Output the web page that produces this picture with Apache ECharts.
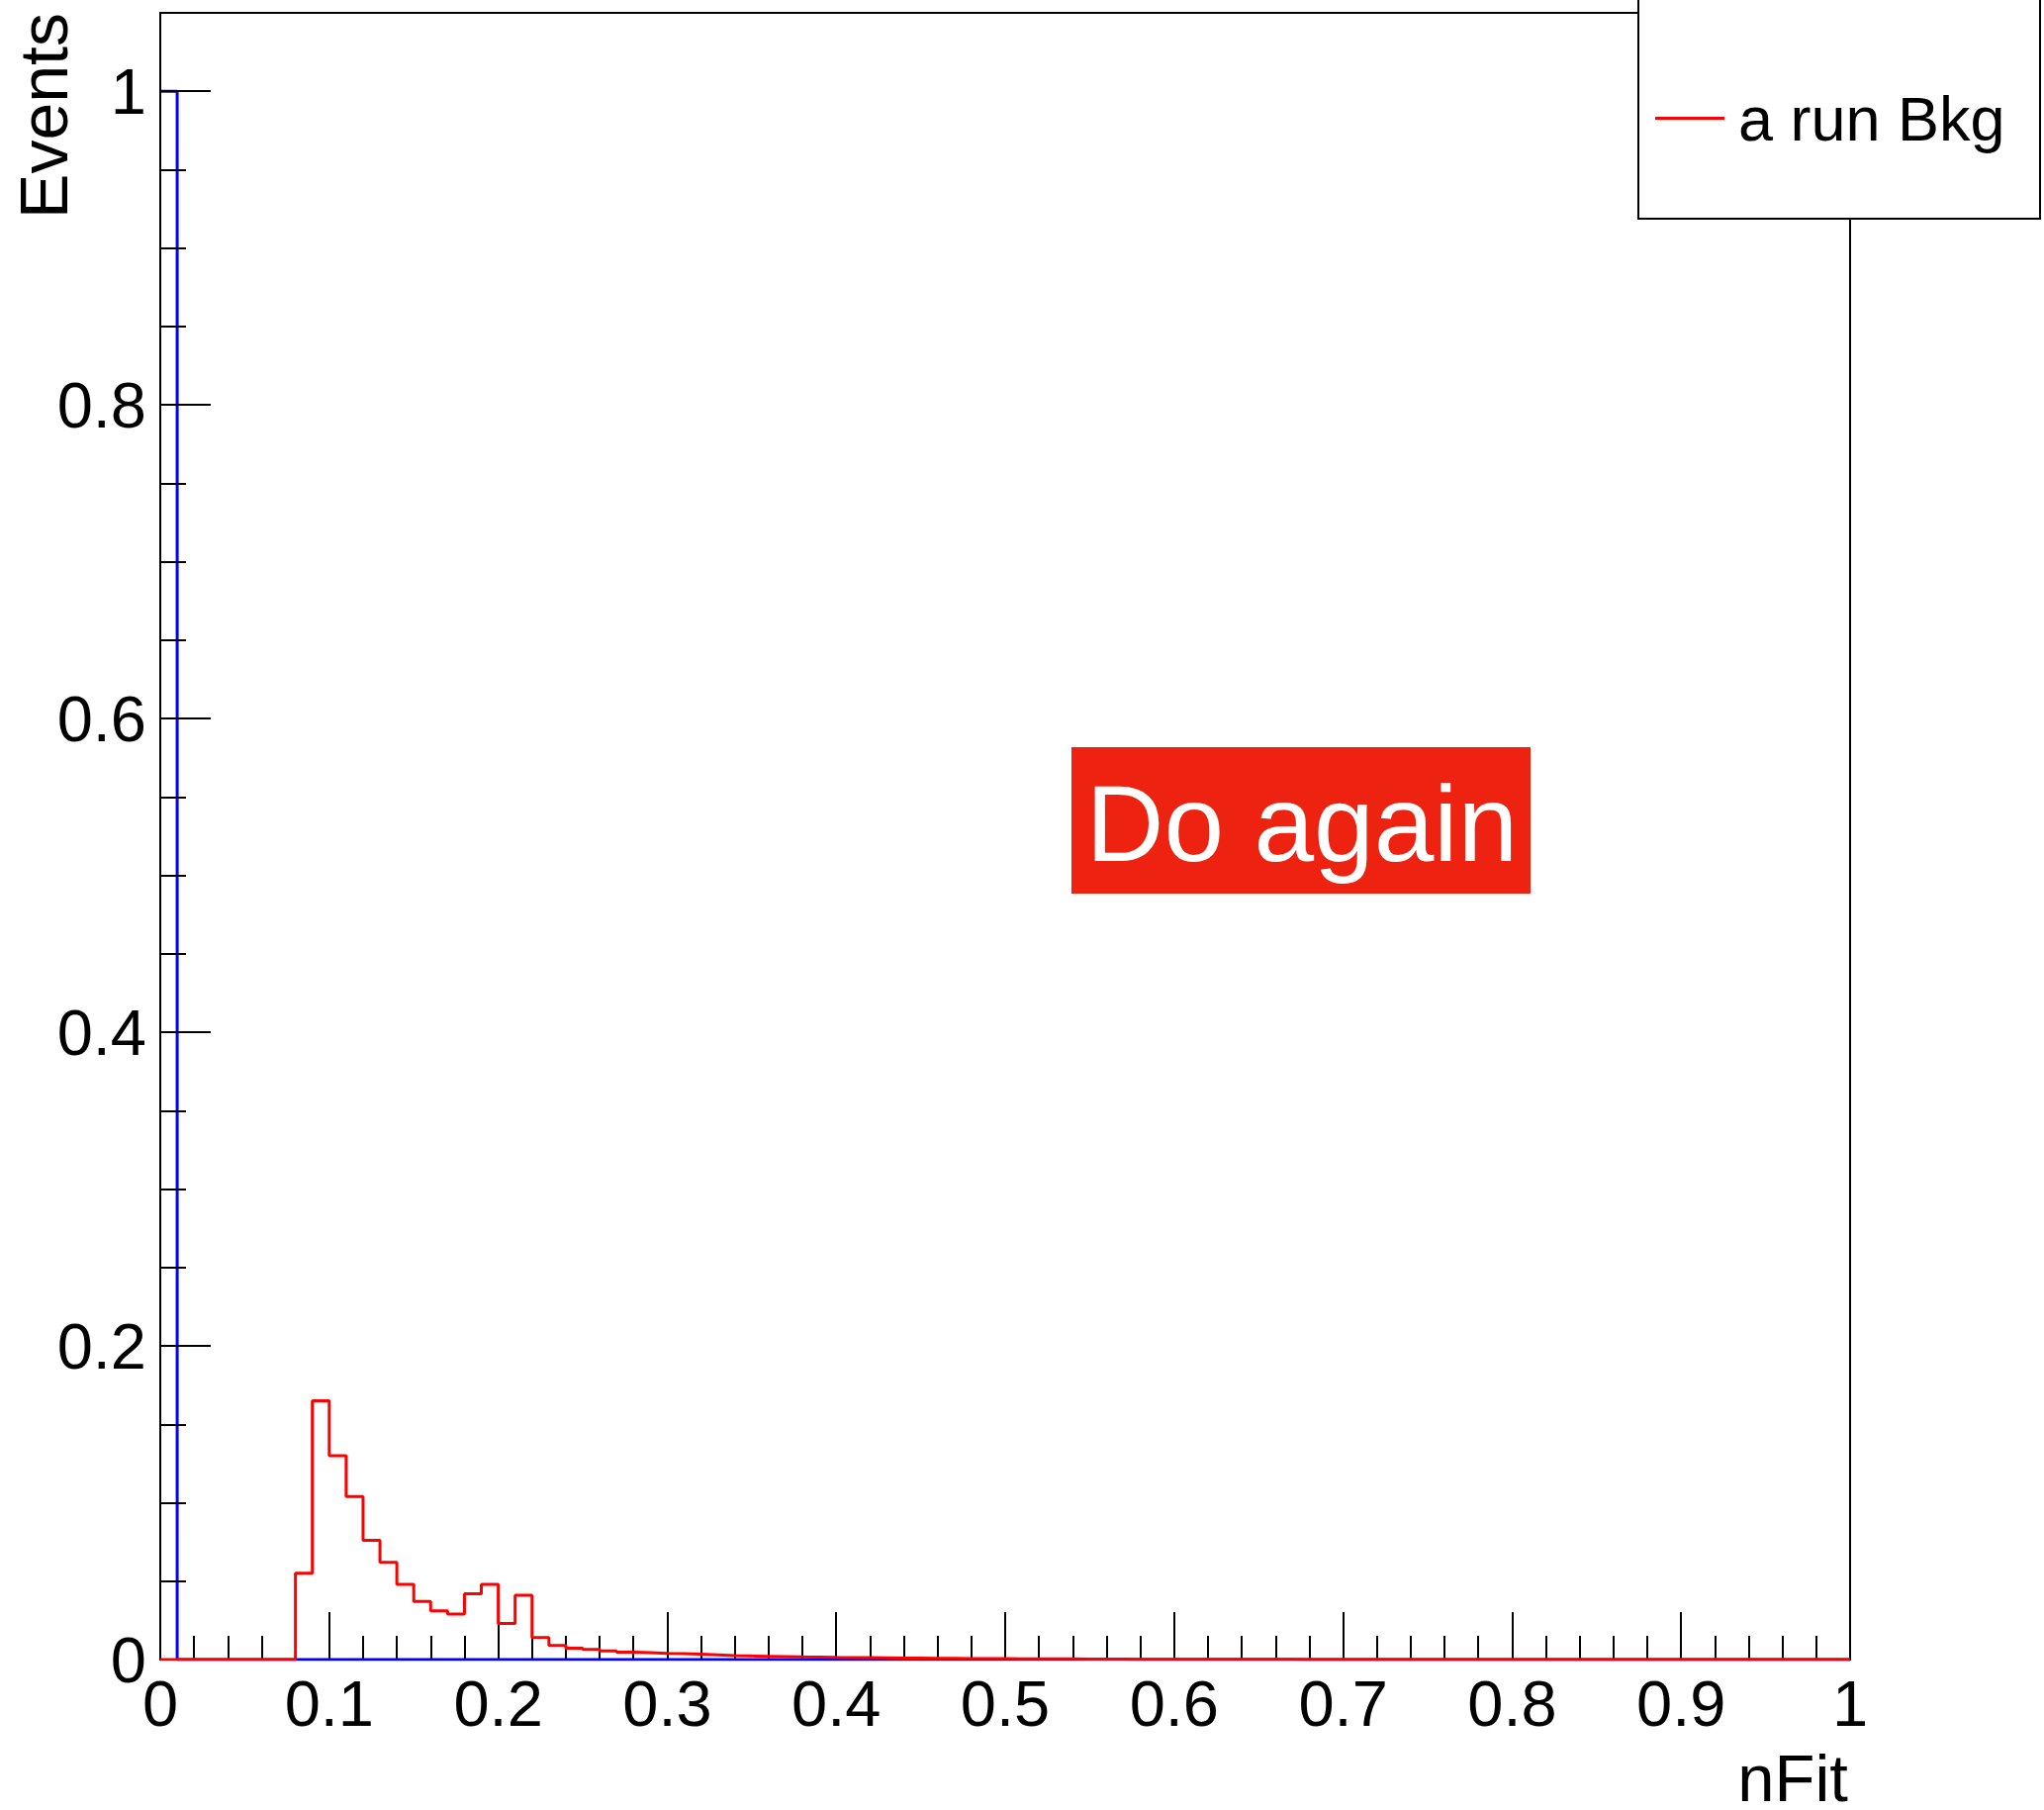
<!DOCTYPE html>
<html>
<head>
<meta charset="utf-8">
<script src="https://cdn.jsdelivr.net/npm/echarts@6/dist/echarts.min.js"></script>
<style>
  html, body { margin: 0; padding: 0; background: #ffffff; }
  #chart { width: 2066px; height: 1829px; }
</style>
</head>
<body>
<div id="chart"></div>
<script>
// ---- data ----
const binWidth = 0.01;          // 100 bins from 0 to 1
const xTitle = 'nFit';
const yTitle = 'Events';
const redName = 'a run Bkg';
const stampText = 'Do again';

// red histogram ("a run Bkg"), bin contents 0.00-0.01, 0.01-0.02, ...
const redCounts = [
  0, 0, 0, 0, 0, 0, 0, 0, 0.055, 0.165,
  0.130, 0.104, 0.076, 0.062, 0.048, 0.037, 0.031, 0.029, 0.042, 0.048,
  0.023, 0.041, 0.014, 0.009, 0.0072, 0.0064, 0.0055, 0.0048, 0.0044, 0.0040,
  0.0038, 0.0034, 0.0030, 0.0026, 0.0023, 0.0021, 0.0019, 0.0017, 0.0016, 0.0014,
  0.0013, 0.0012, 0.0011, 0.0010, 0.0009, 0.0008, 0.0008, 0.0007, 0.0006, 0.0006,
  0.0005, 0.0005, 0.0004, 0.0004, 0.0003, 0.0003, 0.0003, 0.0002, 0.0002, 0.0002,
  0.0002, 0.0001, 0.0001, 0.0001, 0.0001, 0.0001, 0.0001, 0, 0, 0,
  0, 0, 0, 0, 0, 0, 0, 0, 0, 0,
  0, 0, 0, 0, 0, 0, 0, 0, 0, 0,
  0, 0, 0, 0, 0, 0, 0, 0, 0, 0
];

// blue histogram: a single entry in the first bin
const blueCounts = [
  1, 0, 0, 0, 0, 0, 0, 0, 0, 0,
  0, 0, 0, 0, 0, 0, 0, 0, 0, 0,
  0, 0, 0, 0, 0, 0, 0, 0, 0, 0,
  0, 0, 0, 0, 0, 0, 0, 0, 0, 0,
  0, 0, 0, 0, 0, 0, 0, 0, 0, 0,
  0, 0, 0, 0, 0, 0, 0, 0, 0, 0,
  0, 0, 0, 0, 0, 0, 0, 0, 0, 0,
  0, 0, 0, 0, 0, 0, 0, 0, 0, 0,
  0, 0, 0, 0, 0, 0, 0, 0, 0, 0,
  0, 0, 0, 0, 0, 0, 0, 0, 0, 0
];

const xMin = 0, xMax = 1, xMajor = 0.1;
const yMin = 0, yMax = 1.05, yMajor = 0.2, yMinor = 0.05;

// ---- build step outlines from bin contents ----
function histPoints(counts) {
  const pts = counts.map((c, i) => [i * binWidth, c]);
  pts.push([counts.length * binWidth, counts[counts.length - 1]]);
  return pts;
}

const FONT = '"Liberation Sans", Arial, Helvetica, sans-serif';
const chart = echarts.init(document.getElementById('chart'), null, { renderer: 'svg' });

const option = {
  backgroundColor: '#ffffff',
  animation: false,
  textStyle: { fontFamily: FONT },
  grid: {
    left: 162, top: 13, right: 196, bottom: 152,
    show: true, borderColor: '#000000', borderWidth: 2, backgroundColor: 'transparent'
  },
  xAxis: {
    type: 'value', min: xMin, max: xMax, interval: xMajor,
    axisLine: { show: true, lineStyle: { color: '#000000', width: 2 } },
    axisTick: { show: true, inside: true, length: 48, lineStyle: { color: '#000000', width: 2 } },
    minorTick: { show: true, splitNumber: 5, length: 24, lineStyle: { color: '#000000', width: 2 } },
    axisLabel: {
      show: true, margin: 12, color: '#000000', fontSize: 65, fontFamily: FONT,
      formatter: v => String(Math.round(v * 10) / 10)
    },
    splitLine: { show: false }
  },
  yAxis: [
    {
      type: 'value', min: yMin, max: yMax, interval: yMajor, z: 3,
      axisLine: { show: true, lineStyle: { color: '#000000', width: 2 } },
      axisTick: { show: true, inside: true, length: 51, lineStyle: { color: '#000000', width: 2 } },
      axisLabel: {
        show: true, margin: 14, color: '#000000', fontSize: 65, fontFamily: FONT,
        showMaxLabel: false,
        formatter: v => String(Math.round(v * 10) / 10)
      },
      splitLine: { show: false }
    },
    {
      type: 'value', min: yMin, max: yMax, interval: yMinor, position: 'left', z: 3,
      axisLine: { show: false },
      axisTick: { show: true, inside: true, length: 26, lineStyle: { color: '#000000', width: 2 } },
      axisLabel: { show: false },
      splitLine: { show: false }
    }
  ],
  legend: {
    show: true,
    data: [{ name: redName, icon: 'rect' }],
    left: 1668, top: 83,
    itemWidth: 70, itemHeight: 3,
    z: 6,
    selectedMode: false,
    textStyle: { color: '#000000', fontSize: 63, fontFamily: FONT, padding: [0, 0, 0, 9] }
  },
  graphic: [
    {
      type: 'rect', z: 4,
      shape: { x: 1656, y: -10, width: 406, height: 231 },
      style: { fill: '#ffffff', stroke: '#000000', lineWidth: 2 }
    },
    {
      type: 'rect', z: 5,
      shape: { x: 1083, y: 755, width: 464, height: 148 },
      style: { fill: '#ee2210', stroke: null }
    },
    {
      type: 'text', z: 6, x: 1316, y: 832,
      style: {
        text: stampText, fill: '#ffffff', fontSize: 109, fontFamily: FONT,
        align: 'center', verticalAlign: 'middle'
      }
    },
    {
      type: 'text', z: 6, x: 1868, y: 1796,
      style: {
        text: xTitle, fill: '#000000', fontSize: 67, lineHeight: 52, fontFamily: FONT,
        align: 'right', verticalAlign: 'middle'
      }
    },
    {
      type: 'text', z: 6, x: 44, y: 13, rotation: Math.PI / 2,
      style: {
        text: yTitle, fill: '#000000', fontSize: 68, fontFamily: FONT,
        align: 'right', verticalAlign: 'middle'
      }
    }
  ],
  series: [
    {
      name: 'blue', type: 'line', step: 'end', yAxisIndex: 0,
      data: histPoints(blueCounts),
      symbol: 'none', showSymbol: false,
      lineStyle: { color: '#0000ff', width: 3 },
      itemStyle: { color: '#0000ff' },
      z: 2, silent: true
    },
    {
      name: redName, type: 'line', step: 'end', yAxisIndex: 0,
      data: histPoints(redCounts),
      symbol: 'none', showSymbol: false,
      lineStyle: { color: '#ff0000', width: 3 },
      itemStyle: { color: '#ff0000' },
      z: 4, silent: true
    }
  ]
};

chart.setOption(option);
</script>
</body>
</html>
